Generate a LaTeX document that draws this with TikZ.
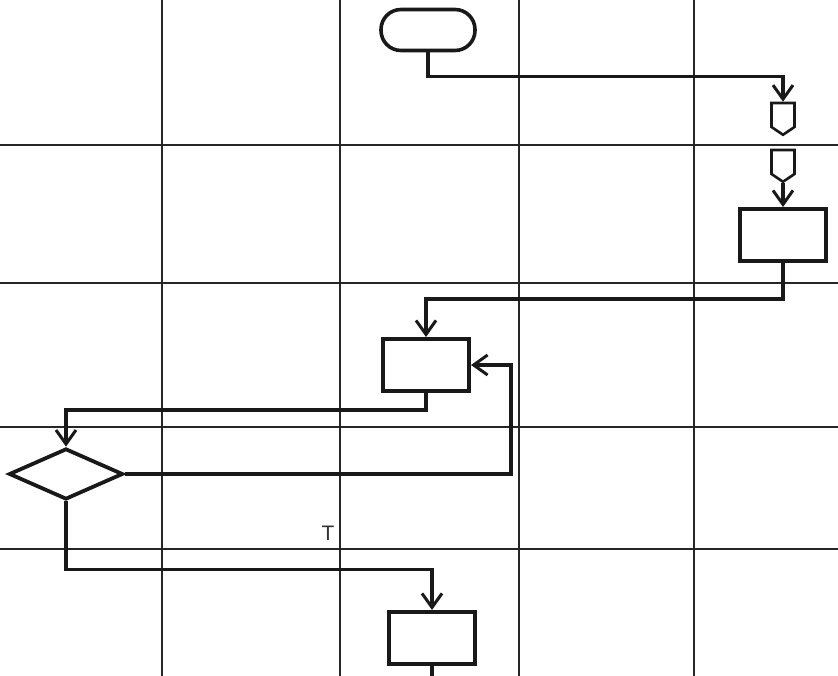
\documentclass[tikz,border=0pt]{standalone}
\usepackage{fontspec}
\setmainfont{Liberation Sans}
\usetikzlibrary{arrows.meta,shapes.geometric,shapes.symbols}
\begin{document}
\begin{tikzpicture}[x=1pt,y=-1pt,
  gridline/.style={line width=2pt,draw=black!85},
  conn/.style={line width=3.2pt,draw=black!90,-{Straight Barb[length=14pt,width=20pt,line width=3pt]}},
  plainconn/.style={line width=3.2pt,draw=black!90},
  proc/.style={draw=black!90,line width=4pt,rectangle,minimum width=86pt,minimum height=52pt,inner sep=0pt},
  term/.style={draw=black!90,line width=3.6pt,rectangle,rounded corners=20pt,minimum width=94pt,minimum height=41pt,inner sep=0pt},
  decision/.style={draw=black!90,line width=3.8pt,diamond,minimum width=114pt,minimum height=51pt,inner sep=0pt},
  offpage/.style={draw=black!90,line width=2.6pt,signal,signal to=south,signal pointer angle=112,minimum width=23pt,minimum height=24pt,inner sep=0pt},
  lbl/.style={font=\fontsize{21}{24}\selectfont,inner sep=0pt,text=black!80}]
\useasboundingbox (0,0) rectangle (838,676);
\fill[white] (0,0) rectangle (838,676);
% grid
\foreach \gx in {162,340,519,694} \draw[gridline] (\gx,0) -- (\gx,676);
\foreach \gy in {145,283,427,549} \draw[gridline] (0,\gy) -- (838,\gy);
% nodes
\node[term] (start) at (428,30) {};
\node[offpage] (op1) at (783,115) {};
\node[offpage] (op2) at (783,162) {};
\node[proc] (b1) at (783,235) {};
\node[proc] (b2) at (426,365) {};
\node[decision] (dia) at (66,474) {};
\node[proc] (b3) at (432,638) {};
\node[lbl] (t) at (328,533) {T};
\coordinate (ret) at (511,474);
\coordinate (endpt) at (432,680);
% connectors
\draw[conn] (start.south) -- ++(0,24) -| (op1.north);
\draw[conn] (op2.south) -- (b1.north);
\draw[conn] (b1.south) -- ++(0,36) -| (b2.north);
\draw[conn] (b2.south) -- ++(0,17) -| (dia.north);
\draw[conn] (dia.east) -- (ret) |- (b2.east);
\draw[conn] (dia.south) -- ++(0,68) -| (b3.north);
\draw[plainconn] (b3.south) -- (endpt);
\end{tikzpicture}
\end{document}
